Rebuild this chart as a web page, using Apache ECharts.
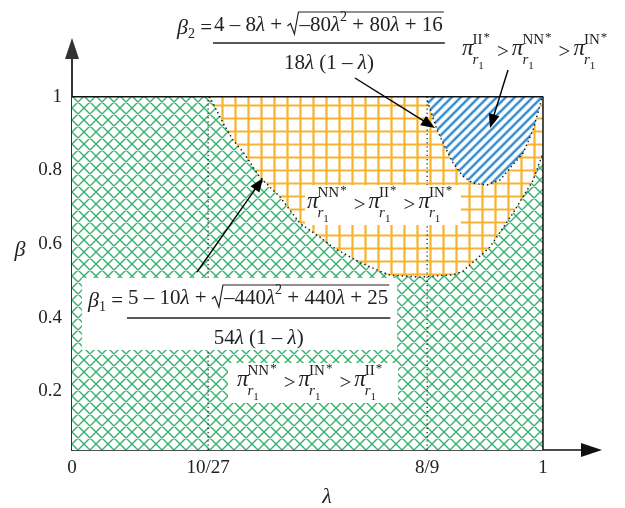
<!DOCTYPE html>
<html><head><meta charset="utf-8">
<script src="https://cdn.jsdelivr.net/npm/echarts@6/dist/echarts.min.js"></script>
<style>html,body{margin:0;padding:0;background:#fff}#c{width:625px;height:508px}</style>
</head><body><div id="c"></div><script>
// ---- data (schematic λ axis, β axis) ----
const xTickValues = [0, 0.289, 0.754, 1];
const xTickLabels = ['0', '10/27', '8/9', '1'];
const yTickValues = [0.2, 0.4, 0.6, 0.8, 1];
const yTickMarks = [0.2, 0.4, 0.6, 0.8];
// green / orange boundary (β1 curve and lower edge of orange region)
const beta1Boundary = [[0.291,1.0],[0.299,0.983],[0.321,0.928],[0.342,0.882],[0.363,0.850],[0.399,0.781],[0.427,0.746],[0.442,0.727],[0.484,0.656],[0.527,0.618],[0.554,0.591],[0.611,0.550],[0.648,0.529],[0.675,0.515],[0.739,0.510],[0.809,0.516],[0.830,0.526],[0.887,0.591],[0.936,0.683],[0.979,0.773],[1.0,0.847]];
// orange / blue boundary (β2 curve)
const beta2Boundary = [[0.754,1.0],[0.754,0.991],[0.775,0.910],[0.792,0.863],[0.809,0.820],[0.830,0.784],[0.851,0.765],[0.881,0.760],[0.909,0.774],[0.936,0.815],[0.958,0.847],[0.979,0.910],[0.994,0.978],[0.998,1.0]];
const plotRange = {xMin: 0, xMax: 1, yMin: 0.04, yMax: 1};

const INK = '#222';
const FF = '"Liberation Serif", "DejaVu Serif", serif';

// ---- patterns ----
function tile(w, h, draw){ const c = document.createElement('canvas'); c.width = w; c.height = h; const g = c.getContext('2d'); g.fillStyle = '#fff'; g.fillRect(0,0,w,h); draw(g, w, h); return c; }
const greenTile = tile(12, 12, (g, s) => {
  g.strokeStyle = '#34b36c'; g.lineWidth = 1.4; g.beginPath();
  for (let k = -1; k <= 1; k++) { g.moveTo(-2, -2 + k*s); g.lineTo(s+2, s+2 + k*s); g.moveTo(-2, s+2 + k*s); g.lineTo(s+2, -2 + k*s); }
  g.stroke();
});
const orangeTile = tile(13, 13, (g, s) => {
  g.strokeStyle = '#f8b32e'; g.lineWidth = 2.2; g.beginPath();
  g.moveTo(1.5, 0); g.lineTo(1.5, s); g.moveTo(0, 1.5); g.lineTo(s, 1.5); g.stroke();
});
const blueTile = tile(9, 9, (g, s) => {
  const lines = () => { g.beginPath(); for (let k = -1; k <= 1; k++) { g.moveTo(-2 + k*s, s+2); g.lineTo(s+2 + k*s, -2); } g.stroke(); };
  g.strokeStyle = '#b3d6f0'; g.lineWidth = 3.6; lines();
  g.strokeStyle = '#2a86cc'; g.lineWidth = 1.6; lines();
});
const pat = c => ({image: c, repeat: 'repeat'});

function polySeries(points, fill, z){
  return {type: 'custom', coordinateSystem: 'cartesian2d', data: [0], z: z, silent: true, animation: false,
    renderItem: (params, api) => ({type: 'polygon', shape: {points: points.map(p => api.coord(p))}, style: {fill: fill, stroke: null}})};
}
function lineSeries(data, style, z){
  return {type: 'line', data: data, symbol: 'none', silent: true, animation: false, z: z, lineStyle: style};
}
const R = plotRange;
const boxPts = [[R.xMin,R.yMin],[R.xMax,R.yMin],[R.xMax,R.yMax],[R.xMin,R.yMax]];
const dots = {color: '#111', width: 1.4, type: [1.4, 3]};

// ---- text helpers ----
const mctx = document.createElement('canvas').getContext('2d');
const fontStr = (s, it) => (it ? 'italic ' : '') + s + 'px ' + FF;
function tw(t, s, it){ mctx.font = fontStr(s, it); return mctx.measureText(t).width; }
const G = [];
function textEl(t, x, cy, s, it, align){
  G.push({type: 'text', x: x, y: cy, z: 100, silent: true,
    style: {text: t, font: fontStr(s, it), fill: INK, textAlign: align || 'left', align: align || 'left', textVerticalAlign: 'middle', verticalAlign: 'middle'}});
}
function runWidth(tokens){ let w = 0; for (const tk of tokens) { if (tk.sqrt) w += 13 + runWidth(tk.sqrt); else w += tw(tk[0], tk[1], tk[2]); } return w; }
function drawRun(tokens, x, cy){
  let cx = x;
  for (const tk of tokens) {
    if (tk.sqrt) {
      const iw = runWidth(tk.sqrt);
      G.push({type: 'polyline', z: 100, silent: true, shape: {points: [[cx, cy+1],[cx+3, cy-1.5],[cx+7, cy+9],[cx+11, cy-13],[cx+13+iw, cy-13]]}, style: {stroke: INK, lineWidth: 1.2, fill: null}});
      drawRun(tk.sqrt, cx + 12, cy);
      cx += 13 + iw;
    } else { textEl(tk[0], cx, cy + (tk[3] || 0), tk[1], tk[2]); cx += tw(tk[0], tk[1], tk[2]); }
  }
  return cx - x;
}
function fraction(label, lx, num, nx, numCy, lineY, den, denCy){
  drawRun(label, lx, numCy + 3.5);
  const nw = drawRun(num, nx, numCy);
  G.push({type: 'line', z: 100, silent: true, shape: {x1: nx - 1, y1: lineY, x2: nx + nw + 1, y2: lineY}, style: {stroke: INK, lineWidth: 1.3}});
  const dw = runWidth(den);
  drawRun(den, nx + nw/2 - dw/2, denCy);
}
function piChain(x, cy, sups){
  let cx = x;
  sups.forEach((s, i) => {
    if (i > 0) { cx += 7; textEl('>', cx, cy, 21, false); cx += tw('>', 21) + 3; }
    textEl('π', cx, cy - 3, 23, true);
    const sx = cx + tw('π', 23, true) - 1;
    textEl('r', sx, cy + 8, 15, true);
    const rw = tw('r', 15, true);
    textEl('1', sx + rw, cy + 14, 11, false);
    textEl(s, sx, cy - 12, 15, false);
    const sw = tw(s, 15);
    textEl('*', sx + sw + 1, cy - 14, 13, false);
    cx = sx + Math.max(rw + tw('1', 11), sw + 1 + tw('*', 13));
  });
}
function whiteBox(x, y, w, h){ G.push({type: 'rect', z: 90, silent: true, shape: {x: x, y: y, width: w, height: h}, style: {fill: '#fff'}}); }
function arrow(x1, y1, x2, y2){
  const dx = x2 - x1, dy = y2 - y1, L = Math.hypot(dx, dy), ux = dx / L, uy = dy / L, hl = 14, hw = 5.5;
  const bx = x2 - ux * hl, by = y2 - uy * hl;
  G.push({type: 'line', z: 100, silent: true, shape: {x1: x1, y1: y1, x2: bx + ux*2, y2: by + uy*2}, style: {stroke: '#000', lineWidth: 1.4}});
  G.push({type: 'polygon', z: 100, silent: true, shape: {points: [[x2, y2],[bx - uy*hw, by + ux*hw],[bx + uy*hw, by - ux*hw]]}, style: {fill: '#000'}});
}

// white label boxes
whiteBox(82, 278, 315, 72);
whiteBox(305, 185, 156, 40);
whiteBox(228, 363, 170, 40);

// formulas
const sz = 21;
fraction([['β', 22, true], ['1', 14, false, 6], [' =', sz]], 88,
  [['5 – 10', sz], ['λ', sz, true], [' + ', sz], {sqrt: [['–440', sz], ['λ', sz, true], ['2', 14, false, -8], [' + 440', sz], ['λ', sz, true], [' + 25', sz]]}],
  128, 298, 318, [['54', sz], ['λ', sz, true], [' (1 – ', sz], ['λ', sz, true], [')', sz]], 338);
fraction([['β', 22, true], ['2', 14, false, 6], [' =', sz]], 177,
  [['4 – 8', sz], ['λ', sz, true], [' + ', sz], {sqrt: [['–80', sz], ['λ', sz, true], ['2', 14, false, -8], [' + 80', sz], ['λ', sz, true], [' + 16', sz]]}],
  214, 25, 43, [['18', sz], ['λ', sz, true], [' (1 – ', sz], ['λ', sz, true], [')', sz]], 63);

piChain(462, 52, ['II', 'NN', 'IN']);
piChain(307, 205, ['NN', 'II', 'IN']);
piChain(237, 383, ['NN', 'IN', 'II']);

arrow(197, 272, 263, 178);
arrow(355, 78, 435, 128);
arrow(508, 70, 490, 128);

// axis names
textEl('β', 20, 250, 22, true, 'center');
textEl('λ', 327, 497, 22, true, 'center');

const chart = echarts.init(document.getElementById('c'), null, {renderer: 'canvas'});
chart.setOption({
  animation: false,
  backgroundColor: '#fff',
  grid: {left: 72, right: 33.5, top: 48.5, bottom: 58, containLabel: false, outerBoundsMode: 'none'},
  xAxis: {type: 'value', min: 0, max: 1.103,
    axisLine: {onZero: false, lineStyle: {color: '#111', width: 1.5}, symbol: ['none', 'triangle'], symbolSize: [14, 21]},
    axisTick: {show: false}, splitLine: {show: false},
    axisLabel: {customValues: xTickValues, margin: 9, fontFamily: FF, fontSize: 19, color: INK,
      formatter: v => { const i = xTickValues.findIndex(t => Math.abs(t - v) < 1e-6); return i >= 0 ? xTickLabels[i] : ''; }}},
  yAxis: {type: 'value', min: R.yMin, max: 1.131,
    axisLine: {onZero: false, lineStyle: {color: '#333', width: 2}, symbol: ['none', 'triangle'], symbolSize: [14, 21]},
    axisTick: {show: true, inside: true, length: 10, customValues: yTickMarks, lineStyle: {color: '#333', width: 1.5}},
    splitLine: {show: false},
    axisLabel: {customValues: yTickValues, margin: 10, fontFamily: FF, fontSize: 19, color: INK,
      formatter: v => String(+(+v).toFixed(2))}},
  series: [
    polySeries(boxPts, pat(greenTile), 1),
    polySeries(beta1Boundary.concat([[R.xMax, R.yMax]]), pat(orangeTile), 2),
    polySeries(beta2Boundary, pat(blueTile), 3),
    lineSeries(beta1Boundary, dots, 4),
    lineSeries(beta2Boundary, dots, 4),
    lineSeries([[xTickValues[1], R.yMin], [xTickValues[1], R.yMax]], {color: '#111', width: 1.2, type: [1.2, 3]}, 4),
    lineSeries([[xTickValues[2], R.yMin], [xTickValues[2], R.yMax]], {color: '#111', width: 1.2, type: [1.2, 3]}, 4),
    lineSeries([[R.xMin, R.yMax], [R.xMax, R.yMax], [R.xMax, R.yMin]], {color: '#111', width: 1.5, type: 'solid'}, 5)
  ],
  graphic: {elements: G}
});
</script></body></html>
